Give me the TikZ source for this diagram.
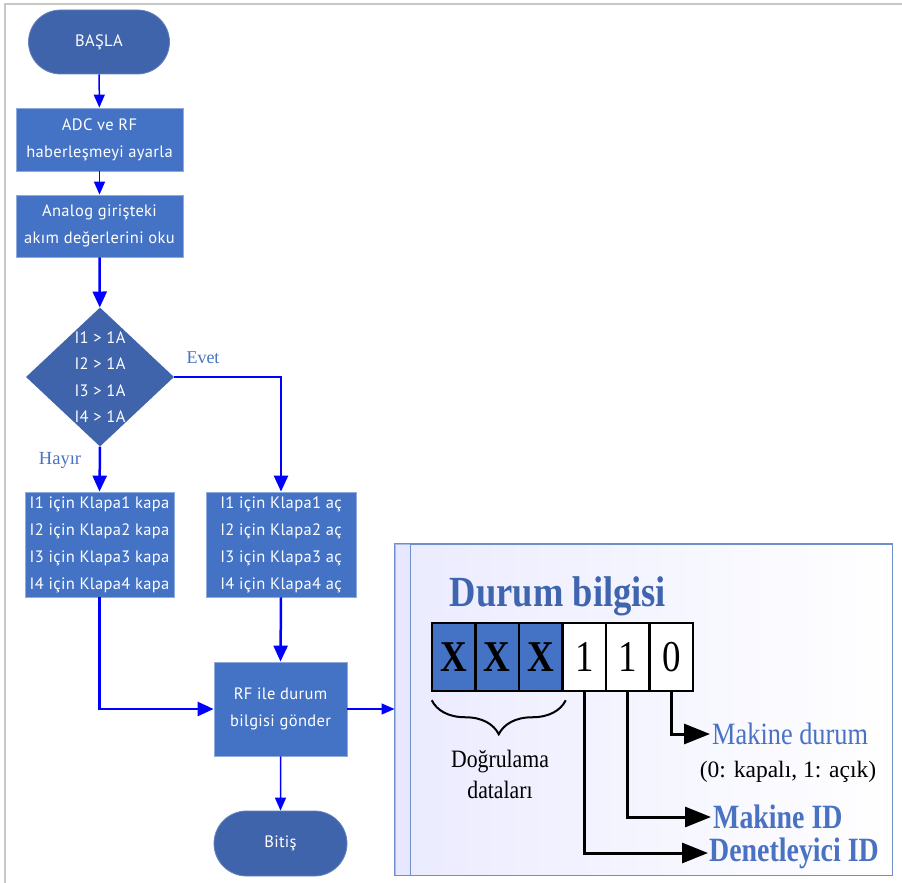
\documentclass[tikz,border=0pt]{standalone}
\usepackage{fontspec}
\usepackage{graphicx}
\setmainfont{Liberation Serif}
\newfontfamily\flowfont[LetterSpace=2]{PT Sans}
\usetikzlibrary{shapes.geometric,shapes.misc,arrows.meta,decorations.pathreplacing,calc}
\definecolor{darkb}{HTML}{3F64AB}
\definecolor{boxb}{HTML}{4472C4}
\definecolor{linkb}{HTML}{0000FF}
\definecolor{titleb}{HTML}{3F65AE}
\definecolor{labb}{HTML}{4A72C2}
\definecolor{framegray}{HTML}{C8C8C8}
\definecolor{panelline}{HTML}{6F8FC8}
\newcommand{\sqz}[2]{\scalebox{#1}[1]{#2}}
\tikzset{
  proc/.style={rectangle, fill=boxb, draw=boxb!60!white, line width=0.8pt, text=white, align=center,
    font=\flowfont\fontsize{16.5}{27}\selectfont, inner sep=0pt},
  term/.style={rounded rectangle, fill=darkb, draw=darkb!80!white, line width=0.8pt, text=white,
    font=\flowfont\fontsize{16.5}{18}\selectfont, inner sep=0pt},
  dec/.style={diamond, fill=darkb, draw=none, inner sep=0pt},
  thick link/.style={draw=linkb, line width=2.5pt, -{Triangle[length=16pt,width=14pt]}},
  thin link/.style={draw=linkb, line width=1.5pt, -{Triangle[length=13pt,width=11pt]}},
  cell/.style={rectangle, draw=black, line width=2.5pt, minimum width=43.5pt, minimum height=68pt, inner sep=0pt},
  bitlink/.style={draw=black, line width=3pt, -{Triangle[length=26pt,width=20pt]}},
  lbl/.style={anchor=west, inner sep=0pt},
}
\begin{document}
\begin{tikzpicture}[x=1pt,y=-1pt]
\useasboundingbox (0,0) rectangle (902,883);
\fill[white] (0,0) rectangle (902,883);
\draw[framegray, line width=2pt] (5,883) -- (5,4) -- (902,4);

% flowchart nodes
\node[term, minimum width=141pt, minimum height=64pt] (start) at (99,42) {BAŞLA};
\node[proc, minimum width=167pt, minimum height=63pt] (b1) at (99.5,139.5) {ADC ve RF\\haberleşmeyi ayarla};
\node[proc, minimum width=167pt, minimum height=62pt] (b2) at (99.5,226) {Analog girişteki\\akım değerlerini oku};
\node[dec, minimum width=148pt, minimum height=139pt] (dia) at (100,377) {};
\node[text=white, align=center, font=\flowfont\fontsize{16.5}{26.5}\selectfont, inner sep=0pt] (diatext) at (dia.center) {I1 > 1A\\I2 > 1A\\I3 > 1A\\I4 > 1A};
\node[proc, minimum width=149pt, minimum height=105pt] (lbox) at (99.5,544.5) {I1 için Klapa1 kapa\\I2 için Klapa2 kapa\\I3 için Klapa3 kapa\\I4 için Klapa4 kapa};
\node[proc, minimum width=150pt, minimum height=105pt] (rbox) at (281,544.5) {I1 için Klapa1 aç\\I2 için Klapa2 aç\\I3 için Klapa3 aç\\I4 için Klapa4 aç};
\node[proc, minimum width=133pt, minimum height=94pt] (rf) at (280.5,709) {RF ile durum\\bilgisi gönder};
\node[term, minimum width=133pt, minimum height=65pt] (end) at (280.5,843.5) {Bitiş};

\node[text=labb, font=\fontsize{18}{20}\selectfont, inner sep=0pt] (evet) at (203,358) {Evet};
\node[text=labb, font=\fontsize{18.5}{20}\selectfont, inner sep=0pt] (hayir) at (60,460) {Hayır};

% flowchart connectors
\draw[thin link] (start) -- (b1);
\draw[thin link] (b1) -- (b2);
\draw[thick link] (b2) -- (dia);
\draw[thick link] (dia.east) -| (rbox.north);
\draw[thick link] (dia.south) -- (lbox.north);
\draw[thick link] (rbox.south) -- (rf.north);
\draw[thick link] (lbox.south) |- (rf.west);
\draw[thin link] (rf) -- (end);

% panel
\node[rectangle, draw=panelline, line width=1pt, left color=blue!8!white, right color=white,
  minimum width=497pt, minimum height=331pt, inner sep=0pt] (panel) at (643.5,709.5) {};
\fill[blue!10!white, opacity=0.5] (panel.north west) rectangle ([xshift=16pt]panel.south west);
\draw[panelline, line width=1pt] ([xshift=16pt]panel.north west) -- ([xshift=16pt]panel.south west);
\draw[panelline, line width=1pt] (panel.north west) rectangle (panel.south east);
\draw[thin link] (rf.east) -- (rf.east -| panel.west);

\node[text=titleb, font=\bfseries\fontsize{43}{46}\selectfont, inner sep=0pt] (title) at (558,596) {\sqz{0.85}{Durum bilgisi}};

\node[cell, fill=boxb, font=\bfseries\fontsize{44}{44}\selectfont] (c1) at (453.75,657) {\sqz{0.84}{X}};
\node[cell, fill=boxb, font=\bfseries\fontsize{44}{44}\selectfont] (c2) at (497.25,657) {\sqz{0.84}{X}};
\node[cell, fill=boxb, font=\bfseries\fontsize{44}{44}\selectfont] (c3) at (540.75,657) {\sqz{0.84}{X}};
\node[cell, fill=white, font=\fontsize{44}{44}\selectfont] (c4) at (584.25,657) {\sqz{0.84}{1}};
\node[cell, fill=white, font=\fontsize{44}{44}\selectfont] (c5) at (627.75,657) {\sqz{0.84}{1}};
\node[cell, fill=white, font=\fontsize{44}{44}\selectfont] (c6) at (671.25,657) {\sqz{0.84}{0}};

\draw[black, line width=2pt, decorate, decoration={brace, mirror, amplitude=34pt, aspect=0.5}]
  ([xshift=1pt,yshift=-8pt]c1.south west) -- ([xshift=2pt,yshift=-8pt]c3.south east);
\node[font=\fontsize{25}{28}\selectfont, inner sep=0pt] (dog1) at (500,762) {\sqz{0.87}{Doğrulama}};
\node[font=\fontsize{25}{28}\selectfont, inner sep=0pt] (dog2) at (500,790) {\sqz{0.87}{dataları}};

\node[lbl, text=labb, font=\fontsize{31}{32}\selectfont] (md) at (712,734) {\sqz{0.85}{Makine durum}};
\node[font=\fontsize{23.5}{26}\selectfont, inner sep=0pt] (mdsub) at (788,772) {(0: kapalı, 1: açık)};
\node[lbl, text=labb, font=\bfseries\fontsize{34}{36}\selectfont] (mid) at (713,817) {\sqz{0.82}{Makine ID}};
\node[lbl, text=labb, font=\bfseries\fontsize{34}{36}\selectfont] (did) at (709,853) {\sqz{0.82}{Denetleyici ID}};

\draw[bitlink] (c6.south) |- ([xshift=-2pt]md.west);
\draw[bitlink] (c5.south) |- ([xshift=-2pt]mid.west);
\draw[bitlink] (c4.south) |- ([xshift=-1pt]did.west);
\end{tikzpicture}
\end{document}
